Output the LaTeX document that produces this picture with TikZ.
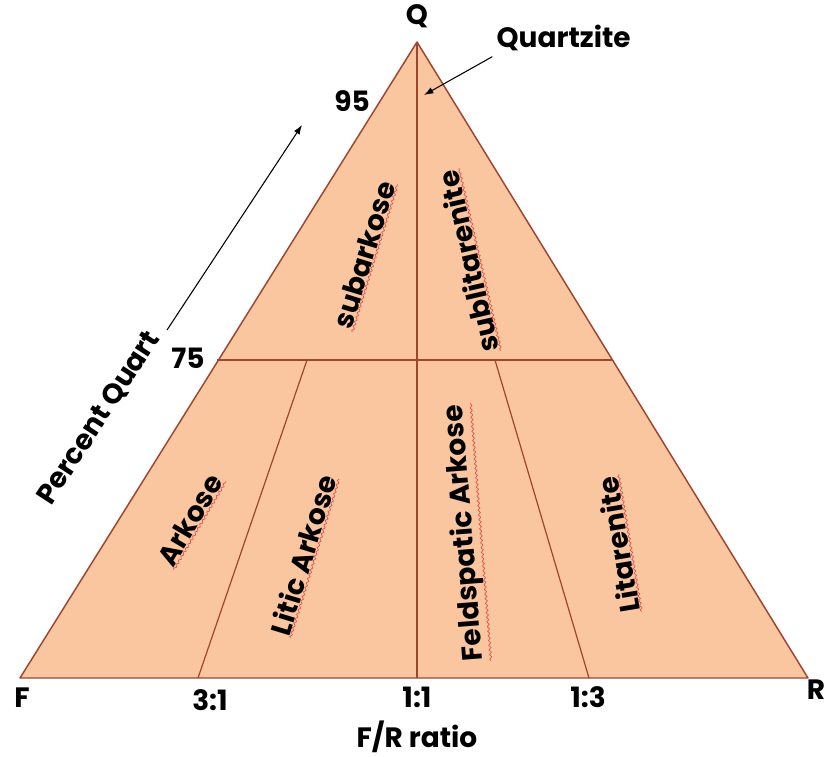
\documentclass[tikz,border=0pt]{standalone}
\usepackage{fontspec}
\setmainfont{Poppins}
\usetikzlibrary{arrows.meta,decorations.pathmorphing}
\definecolor{Peach}{HTML}{F9C6A0}
\definecolor{Rust}{HTML}{9E4530}
\definecolor{Squig}{HTML}{E0504A}

\begin{document}
\begin{tikzpicture}[x=0.75pt,y=-0.75pt,
  lbl/.style={font=\bfseries\fontsize{21}{23}\selectfont,inner sep=0.5pt},
  tick/.style={font=\bfseries\fontsize{21}{23}\selectfont,inner sep=1pt},
  squig/.style={Squig,line width=0.5pt,decorate,decoration={snake,amplitude=0.8pt,segment length=3.5pt}},
  divider/.style={Rust,line width=0.9pt},
  pointer/.style={-{Latex[length=7pt,width=5pt]},black,line width=0.8pt}]
\useasboundingbox (0,0) rectangle (826,757);
% corners of the diagram
\coordinate (F) at (20,678);
\coordinate (R) at (808,678);
\coordinate (Q) at (417,42);
\coordinate (mid) at (417,678);
\coordinate (l75) at (216.5,360);
\coordinate (r75) at (612.5,360);
\coordinate (a31) at (307,360);
\coordinate (b31) at (198,678);
\coordinate (a13) at (495,360);
\coordinate (b13) at (589,678);
\filldraw[fill=Peach,draw=Rust,line width=1.1pt,line join=round] (F)--(R)--(Q)--cycle;
\draw[divider] (Q)--(mid);
\draw[divider] (l75)--(r75);
\draw[divider] (a31)--(b31);
\draw[divider] (a13)--(b13);
% corner and axis labels
\node[tick] (lq) at (417,16) {Q};
\node[tick] (lf) at (22,698) {F};
\node[tick] (lr) at (816,690) {R};
\node[tick] (l31) at (210,700) {3:1};
\node[tick] (l11) at (417,697) {1:1};
\node[tick] (l13) at (588,697) {1:3};
\node[tick] (ratio) at (417,737) {F/R ratio};
\node[tick] (l95) at (352,101) {95};
\node[tick] (lsf) at (188,358) {75};
\node[tick,anchor=west] (qtz) at (495,38) {Quartzite};
\coordinate (qtip) at (424,95);
\draw[pointer] ([xshift=-2pt,yshift=-14pt]qtz.west)--(qtip);
\node[tick,rotate=57] (pq) at (99,418) {Percent Quart};
\coordinate (pq0) at (167,330);
\coordinate (pq1) at (302,125);
\draw[pointer] (pq0)--(pq1);
% rock names
\node[lbl,rotate=73] (subark) at (364,255) {subarkose};
\node[lbl,rotate=103] (sublit) at (468,262) {sublitarenite};
\node[lbl,rotate=59.5] (ark) at (190,520) {Arkose};
\node[lbl,rotate=73] (litark) at (303,555) {Litic Arkose};
\node[lbl,rotate=94.5] (feld) at (465,533) {Feldspatic Arkose};
\node[lbl,rotate=99.5] (litar) at (618,545) {Litarenite};
\foreach \n in {subark,sublit,ark,litark,feld,litar}
  \draw[squig] (\n.south west)--(\n.south east);
\end{tikzpicture}
\end{document}
